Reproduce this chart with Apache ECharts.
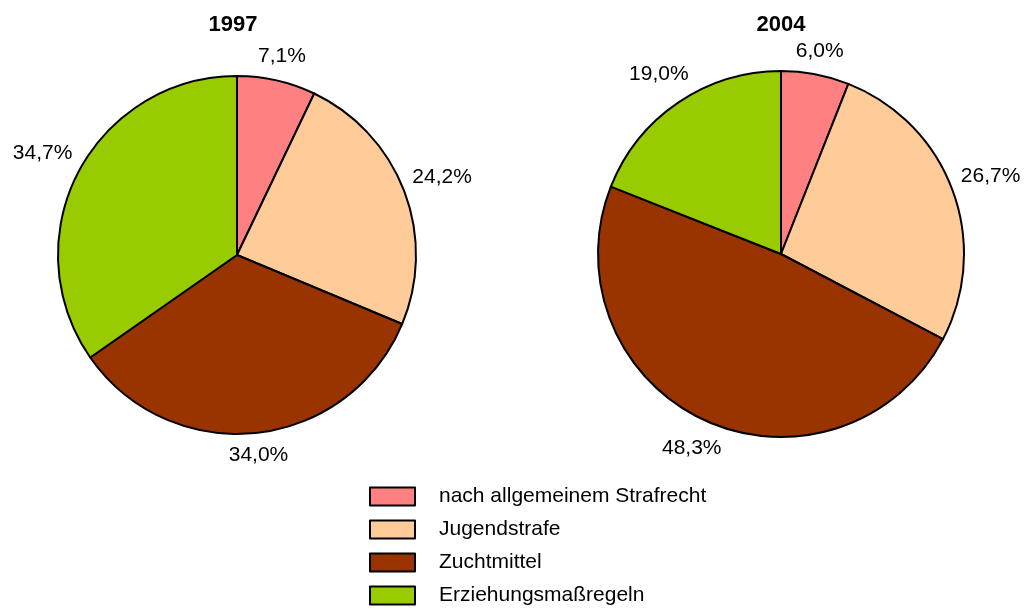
<!DOCTYPE html>
<html>
<head>
<meta charset="utf-8">
<script src="https://cdn.jsdelivr.net/npm/echarts@6/dist/echarts.min.js"></script>
<style>
  html, body { margin: 0; padding: 0; background: #ffffff; }
  #chart { width: 1027px; height: 610px; }
</style>
</head>
<body>
<div id="chart"></div>
<script>
// Verurteilte nach Art der Sanktion, Anteile in Prozent
const categories = ['nach allgemeinem Strafrecht', 'Jugendstrafe', 'Zuchtmittel', 'Erziehungsmaßregeln'];
const years = ['1997', '2004'];
const values1997 = [7.1, 24.2, 34.0, 34.7];
const values2004 = [6.0, 26.7, 48.3, 19.0];
const colors = ['#FF8080', '#FFCC99', '#993300', '#99CC00'];

const FONT = "'Liberation Sans', Arial, Helvetica, sans-serif";
const pies = [
  { values: values1997, center: [237, 255], radius: 179 },
  { values: values2004, center: [781, 254], radius: 183 }
];
const LABEL_GAP = 9;

function fmt(v) {
  return v.toFixed(1).replace('.', ',') + '%';
}

// Place each percentage label just outside its slice, along the slice's mid angle
function placeLabel(params) {
  const pie = pies[params.seriesIndex];
  const vals = pie.values;
  const total = vals.reduce((a, b) => a + b, 0);
  let before = 0;
  for (let i = 0; i < params.dataIndex; i++) before += vals[i];
  const mid = (before + vals[params.dataIndex] / 2) / total * Math.PI * 2;
  const dx = Math.sin(mid);
  const dy = -Math.cos(mid);
  const w = params.labelRect.width;
  const h = params.labelRect.height;
  const ext = (w / 2) * Math.abs(dx) + (h / 2) * Math.abs(dy);
  const d = pie.radius + LABEL_GAP + ext;
  return {
    x: pie.center[0] + dx * d,
    y: pie.center[1] + dy * d,
    align: 'center',
    verticalAlign: 'middle'
  };
}

const chart = echarts.init(document.getElementById('chart'), null, { renderer: 'canvas' });

const series = pies.map((pie, idx) => ({
  name: years[idx],
  type: 'pie',
  center: pie.center,
  radius: pie.radius,
  startAngle: 90,
  clockwise: true,
  avoidLabelOverlap: false,
  silent: true,
  itemStyle: { borderColor: '#000000', borderWidth: 2 },
  label: {
    show: true,
    position: 'outside',
    formatter: p => fmt(p.value),
    fontFamily: FONT,
    fontSize: 21,
    color: '#000000'
  },
  labelLine: { show: false },
  labelLayout: placeLabel,
  emphasis: { disabled: true },
  data: categories.map((c, i) => ({ name: c, value: pie.values[i], itemStyle: { color: colors[i] } }))
}));

chart.setOption({
  animation: false,
  backgroundColor: '#ffffff',
  color: colors,
  title: [
    { text: years[0], left: 233, top: 14, textAlign: 'center', padding: 0,
      textStyle: { fontFamily: FONT, fontSize: 22, fontWeight: 'bold', color: '#000000' } },
    { text: years[1], left: 781, top: 14, textAlign: 'center', padding: 0,
      textStyle: { fontFamily: FONT, fontSize: 22, fontWeight: 'bold', color: '#000000' } }
  ],
  legend: {
    orient: 'vertical',
    left: 369,
    top: 486,
    padding: 0,
    itemWidth: 45,
    itemHeight: 18,
    itemGap: 12,
    icon: 'rect',
    selectedMode: false,
    data: categories,
    itemStyle: { borderColor: '#000000', borderWidth: 2 },
    textStyle: {
      fontFamily: FONT,
      fontSize: 21,
      color: '#000000',
      padding: [0, 0, 0, 19]
    }
  },
  series: series
});
</script>
</body>
</html>
